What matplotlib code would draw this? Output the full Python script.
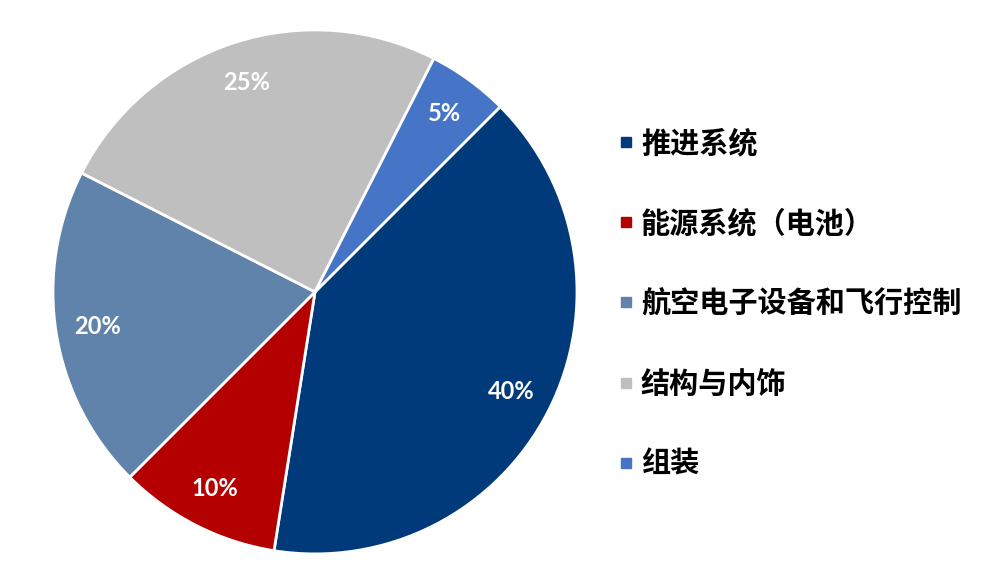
import matplotlib
matplotlib.use('Agg')
import matplotlib.pyplot as plt
from matplotlib.lines import Line2D

plt.rcParams['font.family'] = ['Noto Sans CJK SC', 'DejaVu Sans']

labels = ['推进系统', '能源系统（电池）', '航空电子设备和飞行控制', '结构与内饰', '组装']
shares = [40, 10, 20, 25, 5]
colors = ['#003A7A', '#B40000', '#5F83AB', '#BFBFBF', '#4674C6']

fig = plt.figure(figsize=(10, 5.85), dpi=100)
ax = fig.add_axes([0.315 - 0.262, 0.501 - 0.448, 0.524, 0.896])

wedges, texts, autotexts = ax.pie(
    shares, colors=colors, startangle=45, counterclock=False,
    autopct='%d%%', pctdistance=0.84,
    wedgeprops=dict(edgecolor='white', linewidth=2),
    textprops=dict(color='white', fontsize=17, fontweight='bold',
                   family=['Lato', 'DejaVu Sans']))
ax.set_xlim(-1.0, 1.0)
ax.set_ylim(-1.0, 1.0)
ax.set_aspect('equal')

handles = [Line2D([], [], marker='s', linestyle='none', markersize=6.5,
                  markerfacecolor=c, markeredgecolor=c) for c in colors]
fig.legend(handles, labels, loc='center left', bbox_to_anchor=(0.619, 0.481),
           frameon=False, borderpad=0, borderaxespad=0,
           handlelength=0.5, handletextpad=0.25, labelspacing=1.72,
           prop=dict(family=['Noto Sans CJK SC', 'DejaVu Sans'], size=21, weight='bold'))

fig.savefig('out.png', dpi=100)
